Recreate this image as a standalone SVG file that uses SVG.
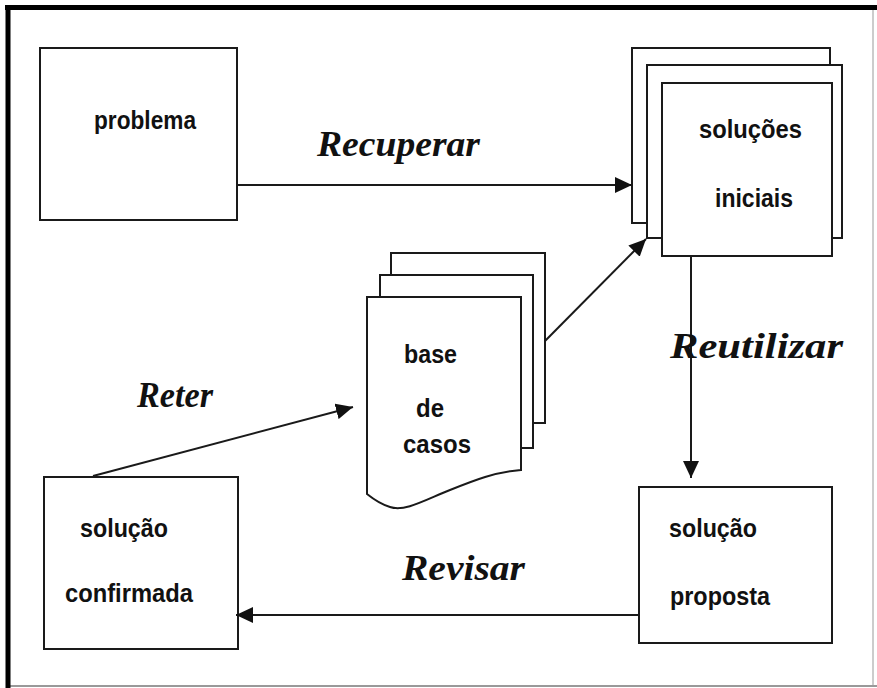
<svg xmlns="http://www.w3.org/2000/svg" width="877" height="688" viewBox="0 0 877 688">
<defs>
<style>
.box{fill:#fff;stroke:#1a1a1a;stroke-width:2}
.lbl{font-family:"Liberation Sans",Arial,sans-serif;font-weight:bold;font-size:26px;fill:#111}
.scr{font-family:"Liberation Serif","Times New Roman",serif;font-weight:bold;font-style:italic;font-size:36px;fill:#111}
.con{stroke:#1a1a1a;stroke-width:2;fill:none;marker-end:url(#ah)}
</style>
<marker id="ah" markerUnits="userSpaceOnUse" markerWidth="18" markerHeight="16" refX="17" refY="8" orient="auto">
<path d="M0,0 L17,8 L0,16 Z" fill="#111"/>
</marker>
</defs>
<rect width="877" height="688" fill="#fff"/>
<g id="frame">
<line x1="873" y1="7" x2="873" y2="686" stroke="#bbb" stroke-width="1.5"/>
<line x1="7" y1="686" x2="877" y2="686" stroke="#999" stroke-width="2"/>
<line x1="5" y1="7.5" x2="877" y2="7.5" stroke="#000" stroke-width="5"/>
<line x1="8" y1="5" x2="8" y2="688" stroke="#000" stroke-width="5"/>
</g>
<g id="problema">
<rect class="box" x="40" y="48" width="197" height="172"/>
<text class="lbl" x="94" y="129" textLength="102" lengthAdjust="spacingAndGlyphs">problema</text>
</g>
<g id="solucoes-iniciais">
<rect class="box" x="632" y="48" width="198" height="175"/>
<rect class="box" x="647" y="65" width="195" height="173"/>
<rect class="box" x="662" y="83" width="170" height="173"/>
<text class="lbl" x="699" y="138" textLength="103" lengthAdjust="spacingAndGlyphs">soluções</text>
<text class="lbl" x="715" y="207" textLength="78" lengthAdjust="spacingAndGlyphs">iniciais</text>
</g>
<g id="base-de-casos">
<rect class="box" x="391" y="253" width="154" height="170"/>
<rect class="box" x="380" y="275" width="153" height="173"/>
<path class="box" d="M367,297 H521 V470 C495,472 475,480 450,490 C425,500 405,512 390,507 C380,504 372,498 367,494 Z"/>
<text class="lbl" x="404" y="363" textLength="53" lengthAdjust="spacingAndGlyphs">base</text>
<text class="lbl" x="416" y="417" textLength="28" lengthAdjust="spacingAndGlyphs">de</text>
<text class="lbl" x="403" y="453" textLength="68" lengthAdjust="spacingAndGlyphs">casos</text>
</g>
<g id="solucao-confirmada">
<rect class="box" x="44" y="477" width="194" height="172"/>
<text class="lbl" x="80" y="537" textLength="88" lengthAdjust="spacingAndGlyphs">solução</text>
<text class="lbl" x="65" y="602" textLength="128" lengthAdjust="spacingAndGlyphs">confirmada</text>
</g>
<g id="solucao-proposta">
<rect class="box" x="639" y="487" width="193" height="156"/>
<text class="lbl" x="669" y="537" textLength="88" lengthAdjust="spacingAndGlyphs">solução</text>
<text class="lbl" x="670" y="605" textLength="100" lengthAdjust="spacingAndGlyphs">proposta</text>
</g>
<g id="connectors">
<line class="con" x1="237" y1="185" x2="632" y2="185"/>
<line class="con" x1="545" y1="341" x2="646" y2="239"/>
<line class="con" x1="691" y1="256" x2="691" y2="478"/>
<line class="con" x1="639" y1="615" x2="236" y2="615"/>
<line class="con" x1="93" y1="476" x2="353" y2="407"/>
</g>
<g id="labels">
<text class="scr" x="317" y="156" textLength="163" lengthAdjust="spacingAndGlyphs">Recuperar</text>
<text class="scr" x="670" y="358" textLength="173" lengthAdjust="spacingAndGlyphs">Reutilizar</text>
<text class="scr" x="137" y="407" textLength="76" lengthAdjust="spacingAndGlyphs">Reter</text>
<text class="scr" x="402" y="580" textLength="123" lengthAdjust="spacingAndGlyphs">Revisar</text>
</g>
</svg>
